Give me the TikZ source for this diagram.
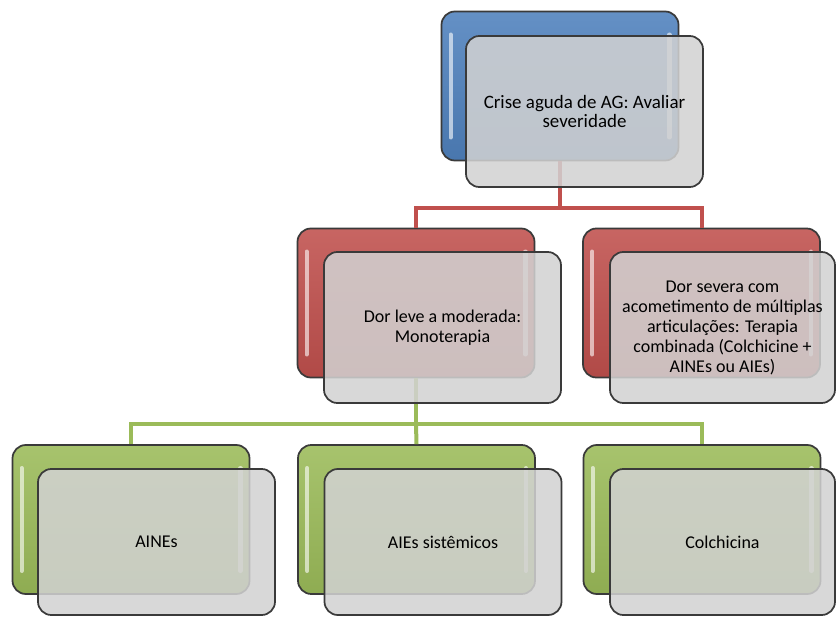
\documentclass[tikz,border=0pt]{standalone}
\usepackage{fontspec}
\setmainfont{Carlito}
\usetikzlibrary{calc}
\definecolor{oblue}{HTML}{4F81BD}
\definecolor{ored}{HTML}{C0504D}
\definecolor{ogreen}{HTML}{9BBB59}
\definecolor{boxline}{HTML}{3A3A3A}
\definecolor{grayfill}{HTML}{D2D2D2}
\begin{document}
\begin{tikzpicture}[x=0.75pt,y=-0.75pt,
  colbox/.style={draw=boxline, line width=1.3pt, rounded corners=10pt,
    minimum width=177.75pt, minimum height=111.75pt, inner sep=0pt,
    top color=#1!88!white, bottom color=#1!92!black},
  graybox/.style={draw=boxline, line width=1.3pt, rounded corners=10pt,
    fill=grayfill, fill opacity=0.86, text opacity=1,
    minimum width=177.75pt, minimum height=113.25pt, inner sep=2pt,
    align=center, font=\fontsize{13.5}{14.9}\selectfont},
  shine/.style={line width=3.2pt, line cap=round, draw=white, draw opacity=0.6},
  redconn/.style={draw=ored, line width=3pt},
  greenconn/.style={draw=ogreen, line width=3pt}]
\useasboundingbox (0,0) rectangle (836,617);
\clip (0,0) rectangle (836,617);

% coloured boxes
\node[colbox=oblue] (b0) at (560,86) {};
\node[colbox=ored] (r1) at (416,303) {};
\node[colbox=ored] (r2) at (701.5,303) {};
\node[colbox=ogreen] (g1) at (131,519.5) {};
\node[colbox=ogreen] (g2) at (416.5,519.5) {};
\node[colbox=ogreen] (g3) at (702,519.5) {};

% highlights
\foreach \n in {b0,r1,r2,g1,g2,g3}{
  \draw[shine] ($(\n.north west)+(10,24)$) -- ($(\n.south west)+(10,-24)$);
  \draw[shine] ($(\n.north east)+(-10,24)$) -- ($(\n.south east)+(-10,-24)$);
}

% connectors
\coordinate (j1) at (0,208);
\coordinate (j2) at (0,424);
\draw[redconn] (b0.south) -- (b0.south |- j1) -| (r1.north);
\draw[redconn] (b0.south |- j1) -| (r2.north);
\draw[greenconn] (r1.south) -- (r1.south |- j2) -| (g1.north);
\draw[greenconn] (r1.south |- j2) -- (g2.north);
\draw[greenconn] (r1.south |- j2) -| (g3.north);

% grey text boxes
\node[graybox, font=\fontsize{14.2}{14.6}\selectfont] (t0) at (584.5,111.5) {Crise aguda de AG: Avaliar\\severidade};
\node[graybox] (t1) at (442.5,327.5) {Dor leve a moderada:\\Monoterapia};
\node[graybox, minimum width=168.75pt, font=\fontsize{13.5}{15}\selectfont] (t2) at (722.5,327.5)
  {Dor severa com\\acometimento de múltiplas\\articulações: Terapia\\combinada (Colchicine +\\AINEs ou AIEs)};
\node[graybox, minimum height=109.5pt] (t3) at (156.5,542) {AINEs};
\node[graybox, minimum height=109.5pt] (t4) at (443,542) {AIEs sistêmicos};
\node[graybox, minimum height=109.5pt, minimum width=168.75pt] (t5) at (722.5,542) {Colchicina};
\end{tikzpicture}
\end{document}
